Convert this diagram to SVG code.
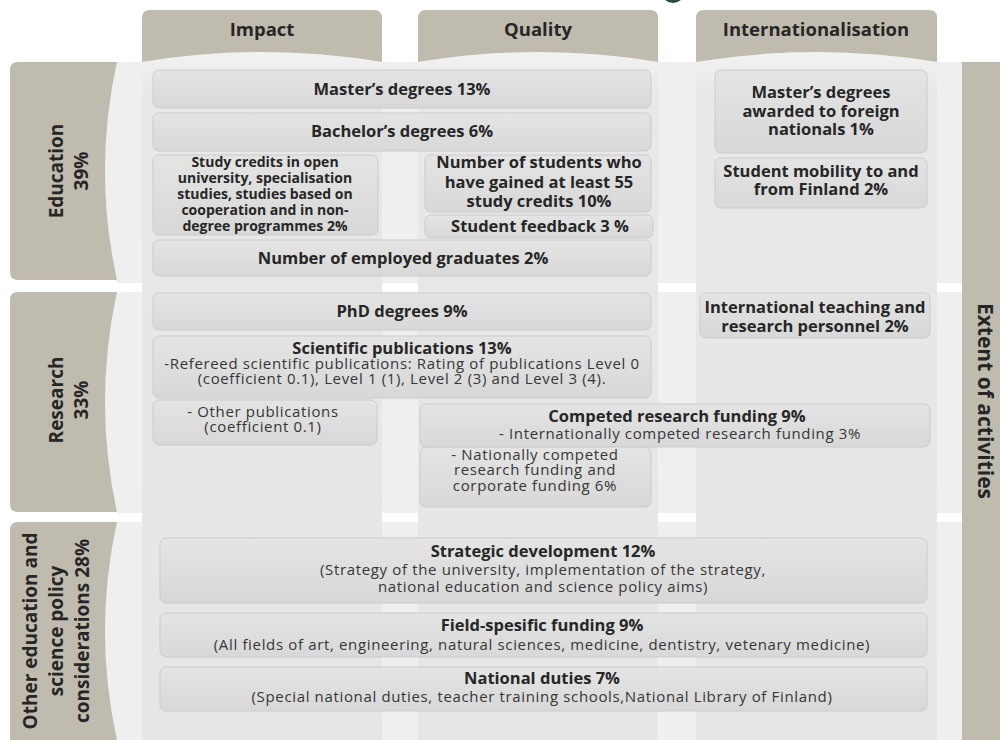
<svg xmlns="http://www.w3.org/2000/svg" width="1000" height="740" viewBox="0 0 1000 740">
<defs>
<linearGradient id="boxg" x1="0" y1="0" x2="0" y2="1">
<stop offset="0" stop-color="#e4e4e4"/>
<stop offset="1" stop-color="#d8d8d8"/>
</linearGradient>
<linearGradient id="colg" x1="0" y1="0" x2="0" y2="1">
<stop offset="0" stop-color="#f2f2f2"/>
<stop offset="0.06" stop-color="#e8e8e8"/>
<stop offset="1" stop-color="#e6e6e6"/>
</linearGradient>
<style>
.taupe{fill:#c0bbaf}
.band{fill:#efefef}
.col{fill:url(#colg)}
.box{fill:url(#boxg);stroke:#cbcbcb;stroke-width:1}
text{font-family:"Open Sans",Lato,"Liberation Sans",sans-serif;fill:#262626;text-anchor:middle}
.hd{font-size:18.5px;font-weight:bold}
.rh{font-size:19px;font-weight:bold}
.b{font-size:16.5px;font-weight:bold}
.sb{font-size:14px;font-weight:bold}
.r{font-size:15px;letter-spacing:0.65px;fill:#363636}
.ext{font-size:21px;font-weight:bold}
</style>
</defs>
<rect width="1000" height="740" fill="#ffffff"/>
<circle cx="673" cy="-9" r="12" fill="#2e4a48"/>

<g id="background">
<path class="band" d="M117,62 H962 V283 H117 Q93,171 117,62 Z"/>
<path class="band" d="M117,292 H962 V513 H117 Q93,402 117,292 Z"/>
<path class="band" d="M117,522 H962 V740 H117 Q93,631 117,522 Z"/>
<path class="col" d="M142,62 Q262,42 382,62 V740 H142 Z"/>
<path class="col" d="M418,62 Q538,42 658,62 V740 H418 Z"/>
<path class="col" d="M696,62 Q816,42 937,62 V740 H696 Z"/>
</g>

<g id="col-impact">
<path class="taupe" d="M142,18 Q142,10 150,10 H374 Q382,10 382,18 V62 Q262,42 142,62 Z"/>
<text class="hd" x="262" y="36">Impact</text>
</g>
<g id="col-quality">
<path class="taupe" d="M418,18 Q418,10 426,10 H650 Q658,10 658,18 V62 Q538,42 418,62 Z"/>
<text class="hd" x="538" y="36">Quality</text>
</g>
<g id="col-intl">
<path class="taupe" d="M696,18 Q696,10 704,10 H929 Q937,10 937,18 V62 Q816,42 696,62 Z"/>
<text class="hd" x="816" y="36">Internationalisation</text>
</g>

<g id="row-education">
<path class="taupe" d="M18,62 H117 Q93,171 117,280 H18 Q10,280 10,272 V70 Q10,62 18,62 Z"/>
<text class="rh" transform="rotate(-90 63 171)" x="63" y="171">Education</text>
<text class="rh" transform="rotate(-90 88 171)" x="88" y="171">39%</text>
</g>
<g id="row-research">
<path class="taupe" d="M18,292 H117 Q93,402 117,512 H18 Q10,512 10,504 V300 Q10,292 18,292 Z"/>
<text class="rh" transform="rotate(-90 63 400)" x="63" y="400">Research</text>
<text class="rh" transform="rotate(-90 88 400)" x="88" y="400">33%</text>
</g>
<g id="row-other">
<path class="taupe" d="M18,522 H117 Q93,631 117,740 H10 V530 Q10,522 18,522 Z"/>
<text class="rh" transform="rotate(-90 37 631)" x="37" y="631">Other education and</text>
<text class="rh" transform="rotate(-90 63 631)" x="63" y="631">science policy</text>
<text class="rh" transform="rotate(-90 89 631)" x="89" y="631">considerations 28%</text>
</g>
<g id="extent">
<rect class="taupe" x="962" y="62" width="38" height="678"/>
<text class="ext" transform="rotate(90 978 401)" x="978" y="401">Extent of activities</text>
</g>

<g id="n-masters">
<rect class="box" x="153" y="70" width="498" height="38" rx="6"/>
<text class="b" x="402" y="95">Master’s degrees 13%</text>
</g>
<g id="n-bachelors">
<rect class="box" x="153" y="113" width="498" height="38" rx="6"/>
<text class="b" x="402" y="137">Bachelor’s degrees 6%</text>
</g>
<g id="n-credits">
<rect class="box" x="153" y="155" width="225" height="80" rx="6"/>
<text class="sb" x="265" y="167">Study credits in open</text>
<text class="sb" x="265" y="183">university, specialisation</text>
<text class="sb" x="265" y="199">studies, studies based on</text>
<text class="sb" x="265" y="215">cooperation and in non-</text>
<text class="sb" x="265" y="231">degree programmes 2%</text>
</g>
<g id="n-students55">
<rect class="box" x="425" y="155" width="226" height="57" rx="6"/>
<text class="b" x="539" y="168">Number of students who</text>
<text class="b" x="539" y="188">have gained at least 55</text>
<text class="b" x="539" y="207">study credits 10%</text>
</g>
<g id="n-feedback">
<rect class="box" x="425" y="215" width="228" height="23" rx="6"/>
<text class="b" x="540" y="232">Student feedback 3 %</text>
</g>
<g id="n-employed">
<rect class="box" x="153" y="240" width="498" height="36" rx="6"/>
<text class="b" x="403" y="264">Number of employed graduates 2%</text>
</g>
<g id="n-foreign">
<rect class="box" x="715" y="70" width="212" height="83" rx="6"/>
<text class="b" x="821" y="98">Master’s degrees</text>
<text class="b" x="821" y="117">awarded to foreign</text>
<text class="b" x="821" y="135">nationals 1%</text>
</g>
<g id="n-mobility">
<rect class="box" x="715" y="158" width="212" height="50" rx="6"/>
<text class="b" x="821" y="177">Student mobility to and</text>
<text class="b" x="821" y="195">from Finland 2%</text>
</g>

<g id="n-phd">
<rect class="box" x="153" y="293" width="498" height="37" rx="6"/>
<text class="b" x="402" y="317">PhD degrees 9%</text>
</g>
<g id="n-scipub">
<rect class="box" x="153" y="336" width="498" height="62" rx="6"/>
<text class="b" x="402" y="354">Scientific publications 13%</text>
<text class="r" x="402" y="369">-Refereed scientific publications: Rating of publications Level 0</text>
<text class="r" x="402" y="384">(coefficient 0.1), Level 1 (1), Level 2 (3) and Level 3 (4).</text>
</g>
<g id="n-otherpub">
<rect class="box" x="153" y="400" width="224" height="45" rx="6"/>
<text class="r" x="263" y="417">- Other publications</text>
<text class="r" x="263" y="432">(coefficient 0.1)</text>
</g>
<g id="n-competed">
<rect class="box" x="420" y="404" width="510" height="43" rx="6"/>
<text class="b" x="677" y="422">Competed research funding 9%</text>
<text class="r" x="680" y="439">- Internationally competed research funding 3%</text>
</g>
<g id="n-national">
<rect class="box" x="420" y="447" width="231" height="60" rx="6"/>
<text class="r" x="535" y="460">- Nationally competed</text>
<text class="r" x="535" y="475">research funding and</text>
<text class="r" x="535" y="491">corporate funding 6%</text>
</g>
<g id="n-intlstaff">
<rect class="box" x="700" y="293" width="230" height="45" rx="6"/>
<text class="b" x="815" y="313">International teaching and</text>
<text class="b" x="815" y="332">research personnel 2%</text>
</g>

<g id="n-strategic">
<rect class="box" x="160" y="538" width="767" height="65" rx="6"/>
<text class="b" x="543" y="557">Strategic development 12%</text>
<text class="r" x="543" y="575">(Strategy of the university, implementation of the strategy,</text>
<text class="r" x="543" y="592">national education and science policy aims)</text>
</g>
<g id="n-field">
<rect class="box" x="160" y="613" width="767" height="44" rx="6"/>
<text class="b" x="542" y="631">Field-spesific funding 9%</text>
<text class="r" x="542" y="650">(All fields of art, engineering, natural sciences, medicine, dentistry, vetenary medicine)</text>
</g>
<g id="n-duties">
<rect class="box" x="160" y="667" width="767" height="44" rx="6"/>
<text class="b" x="542" y="684">National duties 7%</text>
<text class="r" x="542" y="702">(Special national duties, teacher training schools,National Library of Finland)</text>
</g>
<g id="connectors"/>
</svg>
